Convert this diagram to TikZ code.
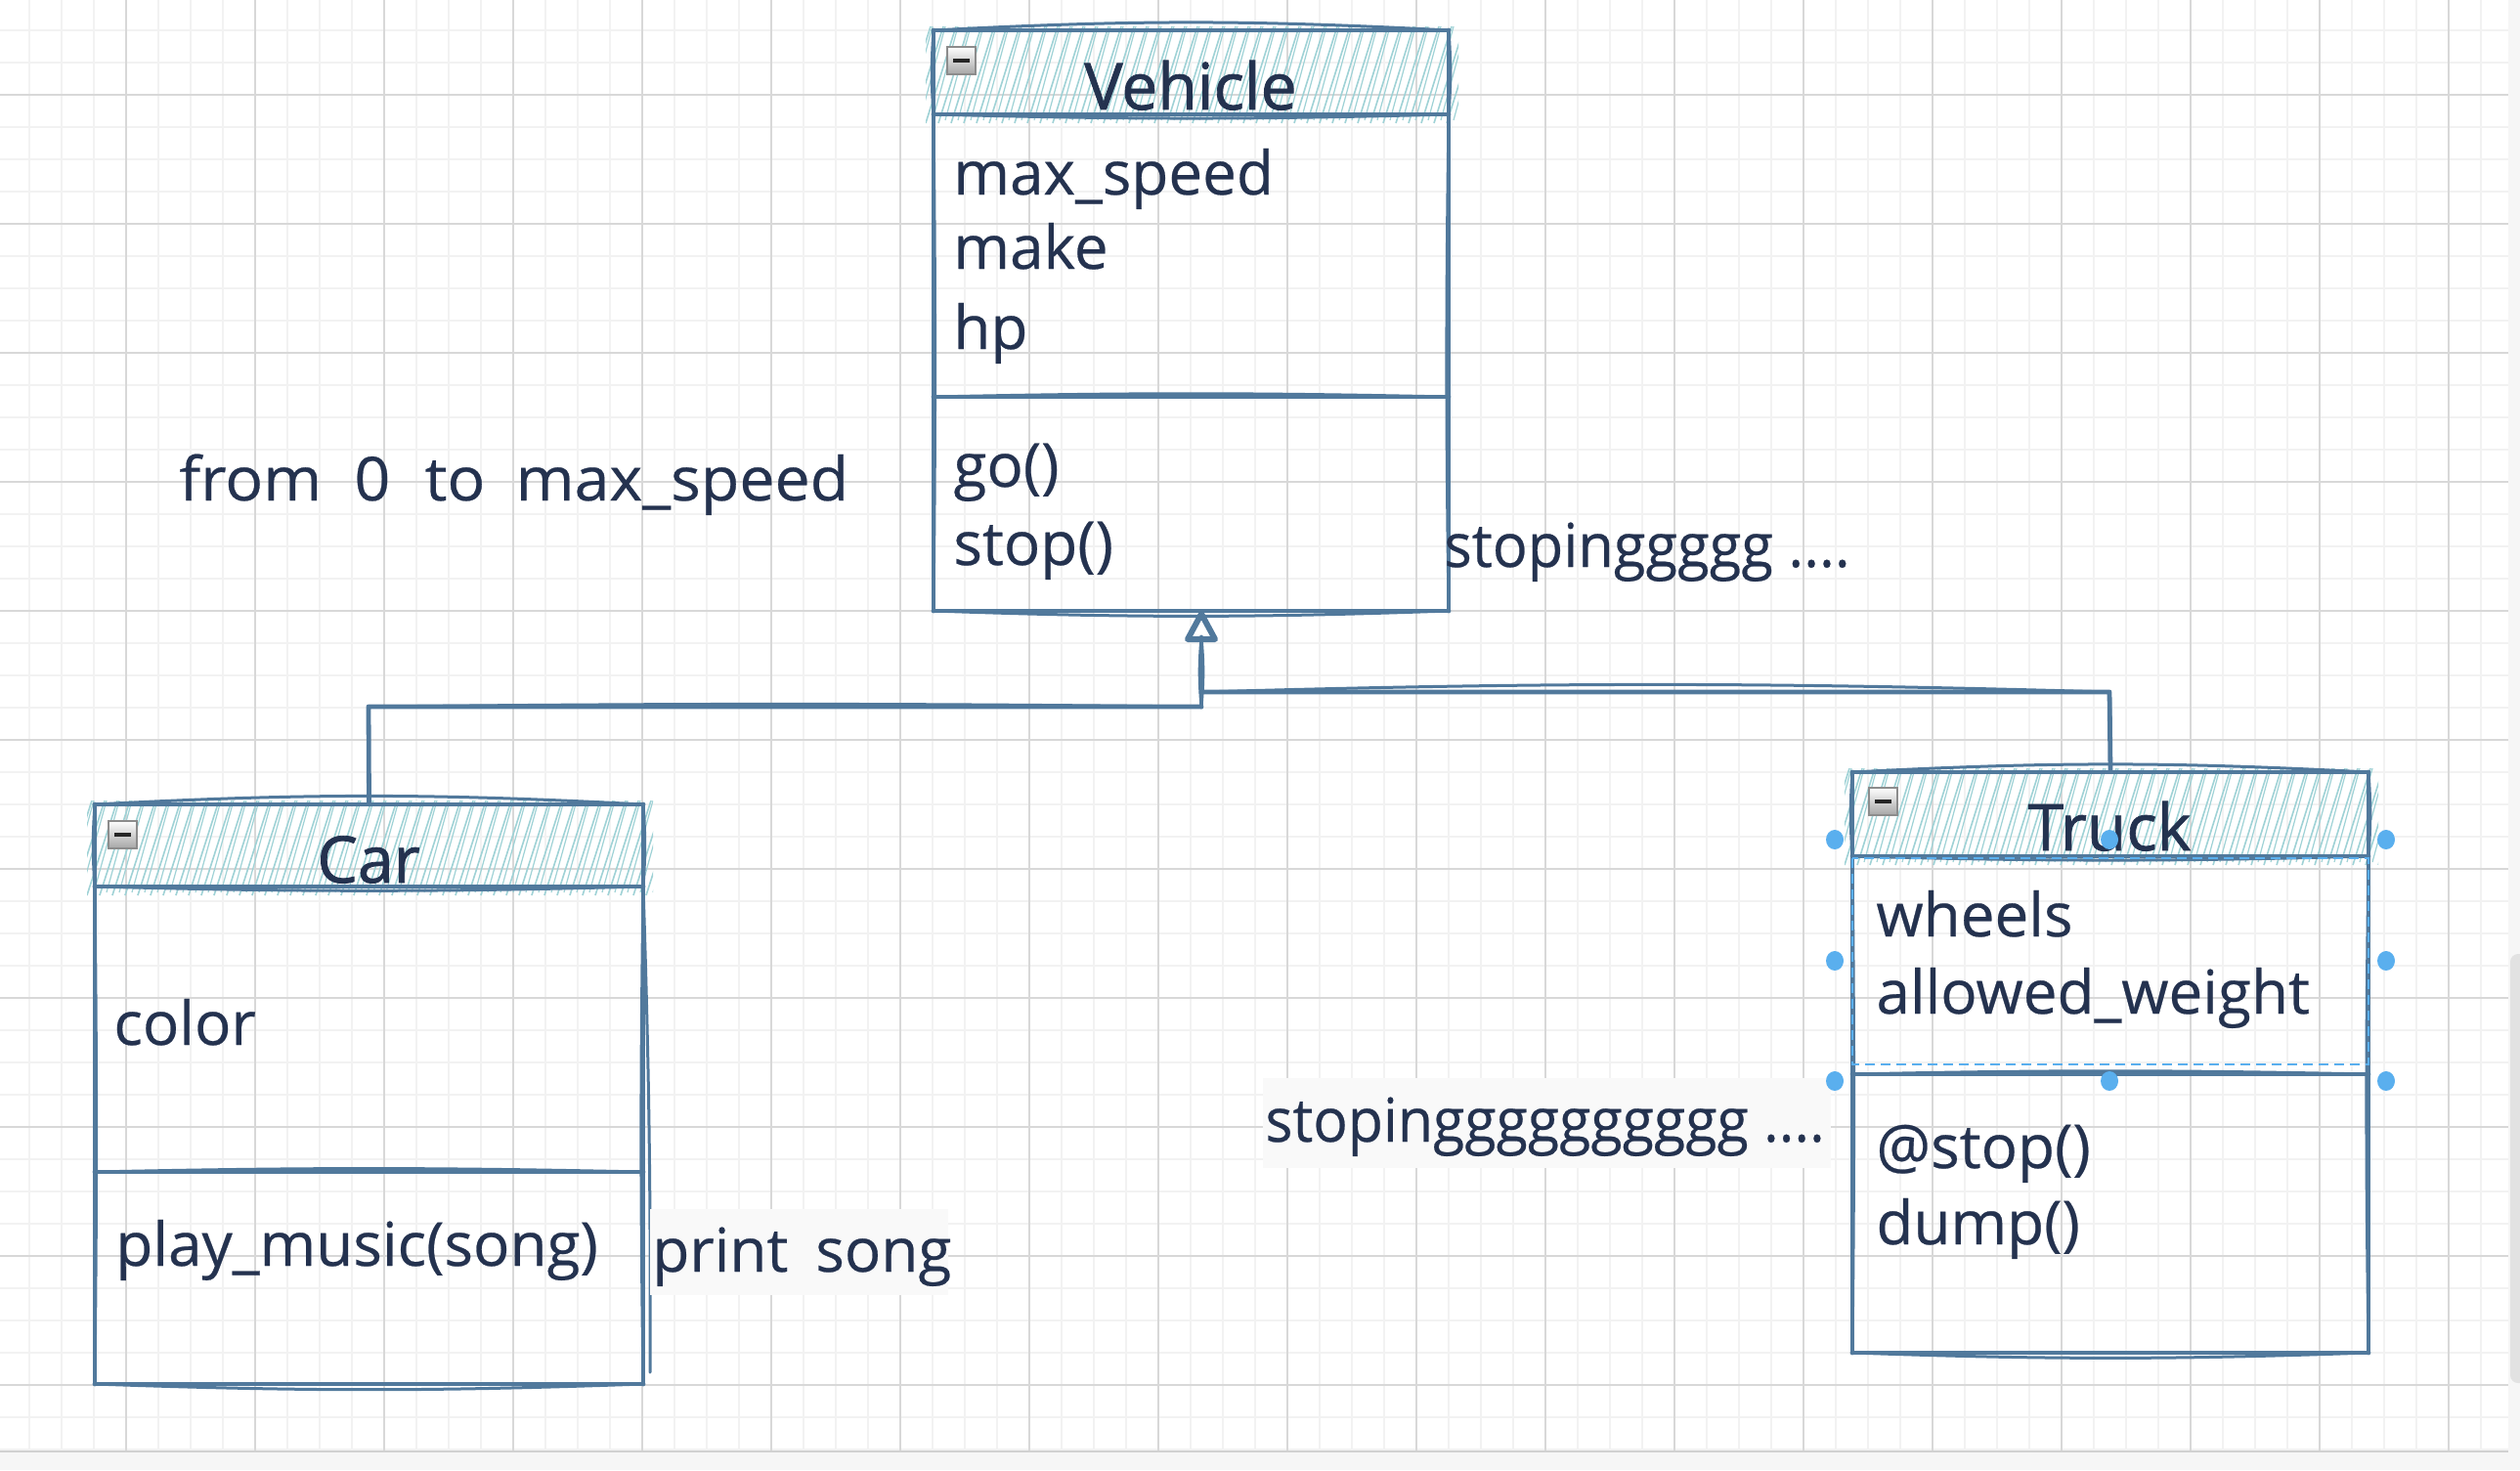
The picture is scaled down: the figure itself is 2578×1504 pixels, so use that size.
\documentclass[tikz,border=0pt]{standalone}
\usepackage{fontspec}
\setmainfont{Open Sans}
\newfontfamily\bodyfont[FakeBold=0.4]{Open Sans}
\newfontfamily\titlefont[FakeBold=1.2]{Open Sans}
\usetikzlibrary{fit}
\definecolor{skblue}{HTML}{51799C}
\definecolor{navy}{HTML}{24324F}
\definecolor{hatchc}{HTML}{9FD2D6}
\definecolor{gridmin}{HTML}{F2F2F2}
\definecolor{gridmaj}{HTML}{D8D8D8}
\definecolor{selblue}{HTML}{5AAFEE}
\definecolor{lblbg}{HTML}{F9F9F9}
\definecolor{edgebg}{HTML}{F6F6F6}
\definecolor{scrollc}{HTML}{E2E2E2}
\tikzset{
  sk/.style={draw=skblue, line width=2.4pt, line cap=round, line join=round},
  skthin/.style={draw=skblue, line width=1.5pt, line cap=round, line join=round},
  hatch/.style={draw=hatchc, line width=0.8pt},
  txt/.style={font=\bodyfont\fontsize{31}{37}\selectfont, text=navy, inner sep=0pt, anchor=base west},
  ttl/.style={font=\titlefont\fontsize{33}{39}\selectfont, text=navy, inner sep=0pt, anchor=base},
  boxnode/.style={inner sep=0pt, draw=none},
  seldot/.style={fill=selblue, draw=none},
}
% sketchy class box: #1 x1, #2 y1, #3 x2, #4 y2, #5 header bottom, #6 divider
\newcommand{\skbox}[6]{%
  \begin{scope}
    \clip (#1-8,#2-4) rectangle (#3+10,#5+9);
    \foreach \xx in {-60,-47,...,600} {
      \draw[hatch] ({#1+\xx},{#5+9}) -- ++(31,{-(#5-#2+13)});
    }
    \foreach \xx in {-53,-40,...,600} {
      \draw[hatch, line width=0.6pt] ({#1+\xx},{#5+6}) -- ++(26,{-(#5-#2+10)});
    }
  \end{scope}
  % top edge
  \draw[sk] (#1,#2) -- (#3,#2);
  \draw[skthin] (#1,#2) to[bend left=3] (#3,#2);
  % header bottom
  \draw[sk] (#1,#5) -- (#3,#5);
  \draw[skthin] (#1,#5) to[bend right=1.5] (#3,#5);
  % divider
  \draw[sk] (#1,#6) -- (#3,#6);
  \draw[skthin] (#1,#6) to[bend left=1.2] (#3,#6);
  % bottom
  \draw[sk] (#1,#4) -- (#3,#4);
  \draw[skthin] (#1,#4) to[bend right=2] (#3,#4);
  % left / right
  \draw[sk] (#1,#2) -- (#1,#4);
  \draw[skthin] (#1,#2) to[bend right=4] (#1,#5);
  \draw[skthin] (#1,#5) to[bend left=0.6] (#1,#4);
  \draw[sk] (#3,#2) -- (#3,#4);
  \draw[skthin] (#3,#2) to[bend left=4] (#3,#5);
  \draw[skthin] (#3,#5) to[bend right=0.8] (#3,#4);
}
% collapse icon: #1 x1, #2 y1
\newcommand{\minusicon}[2]{%
  \shade[top color=white, bottom color=black!35, draw=black!45, line width=0.8pt]
    (#1,#2) rectangle ++(29,28);
  \fill[black!85] ({#1+6},{#2+12}) rectangle ++(17,4);
}
\begin{document}
\begin{tikzpicture}[x=0.5pt,y=-0.5pt]
\useasboundingbox (0,0) rectangle (2578,1504);
% canvas
\fill[white] (0,0) rectangle (2578,1504);
\fill[edgebg] (2566,0) rectangle (2578,1486);
\fill[edgebg] (0,1486) rectangle (2578,1504);
\begin{scope}
  \clip (0,0) rectangle (2566,1484);
  \foreach \xx in {-3,30,...,2570} \draw[gridmin, line width=0.8pt] (\xx,0) -- (\xx,1484);
  \foreach \yy in {-35,-2,...,1490} \draw[gridmin, line width=0.8pt] (0,\yy) -- (2566,\yy);
  \foreach \xx in {-3,129,...,2570} \draw[gridmaj, line width=0.7pt] (\xx,0) -- (\xx,1484);
  \foreach \yy in {-35,97,...,1490} \draw[gridmaj, line width=0.7pt] (0,\yy) -- (2566,\yy);
\end{scope}
\draw[black!18, line width=1.2pt] (0,1485) -- (2566,1485);
\fill[scrollc, rounded corners=4pt] (2568,976) rectangle (2590,1415);

% ---------- class boxes (named) ----------
\coordinate (v1) at (955,31);  \coordinate (v2) at (1482,625);
\coordinate (c1) at (97,823);  \coordinate (c2) at (658,1416);
\coordinate (t1) at (1895,790); \coordinate (t2) at (2423,1384);
\node[boxnode, fit=(v1)(v2)] (vehicle) {};
\node[boxnode, fit=(c1)(c2)] (car) {};
\node[boxnode, fit=(t1)(t2)] (truck) {};

\skbox{955}{31}{1482}{625}{117}{406}
\skbox{97}{823}{658}{1416}{907}{1199}
\skbox{1895}{790}{2423}{1384}{876}{1099}
\draw[skthin] (658,907) to[bend left=1] (665,1404);

\minusicon{969}{48}
\minusicon{111}{840}
\minusicon{1912}{806}

% ---------- Vehicle texts ----------
\node[ttl] (vtitle) at (1218,112) {Vehicle};
\node[txt] (vattr1) at (975,199) {max\_speed};
\node[txt] (vattr2) at (975,275) {make};
\node[txt] (vattr3) at (975,357) {hp};
\node[txt] (vop1) at (975,498) {go()};
\node[txt] (vop2) at (975,578) {stop()};

% ---------- Car texts ----------
\node[ttl] (ctitle) at (377,903) {Car};
\node[txt] (cattr1) at (116,1069) {color};
\node[txt] (cop1) at (118,1295) {play\_music(song)};

% ---------- Truck texts ----------
\node[ttl] (ttitle) at (2158,870) {Truck};
\node[txt] (tattr1) at (1919,958) {wheels};
\node[txt] (tattr2) at (1919,1037) {allowed\_weight};
\node[txt] (top1) at (1919,1195) {@stop()};
\node[txt] (top2) at (1919,1273) {dump()};

% ---------- free notes ----------
\node[txt] (note1) at (183,512) {\scalebox{1.04}[1]{from\hspace{16pt}0\hspace{17pt}to\hspace{15pt}max\_speed}};
\node[txt] (note2) at (1477,580) {\scalebox{0.96}[1]{stopinggggg ....}};
\fill[lblbg] (665,1237) rectangle (970,1325);
\node[txt] (note3) at (667,1301) {print\hspace{14pt}song};
\fill[lblbg] (1292,1103) rectangle (1873,1195);
\node[txt] (note4) at (1294,1168) {\scalebox{0.95}[1]{stopingggggggggg ....}};

% ---------- inheritance connectors ----------
\coordinate (tip) at (1229,628);
\coordinate (jc) at (1229,723);
\coordinate (jt) at (1229,708);
\draw[sk] (car.north) -- (377,723) -- (jc);
\draw[skthin] (car.north) to[bend left=1] (377,723);
\draw[skthin] (377,723) to[bend left=0.6] (jc);
\draw[sk] (jc) -- (1229,652);
\draw[skthin] (jc) to[bend left=5] (1229,652);
\draw[skthin] (jc) to[bend right=5] (1229,652);
\draw[sk] (truck.north) -- (2158,708) -- (jt);
\draw[skthin] (2158,708) to[bend right=1.6] (jt);
\draw[skthin] (truck.north) to[bend right=2] (2158,708);
% open arrowhead at Vehicle
\draw[sk, line width=3pt] (1215,654) -- (tip) -- (1243,654) -- cycle;

% ---------- selection overlay on Truck ----------
\draw[selblue, line width=0.9pt, dash pattern=on 5pt off 3pt] (1895,878) rectangle (2423,1089);
\foreach \px/\py in {1877/859,2158/859,2441/859,1877/983,2441/983,1877/1106,2158/1106,2441/1106}
  \fill[seldot] (\px,\py) ellipse (9 and 10);
\end{tikzpicture}
\end{document}
